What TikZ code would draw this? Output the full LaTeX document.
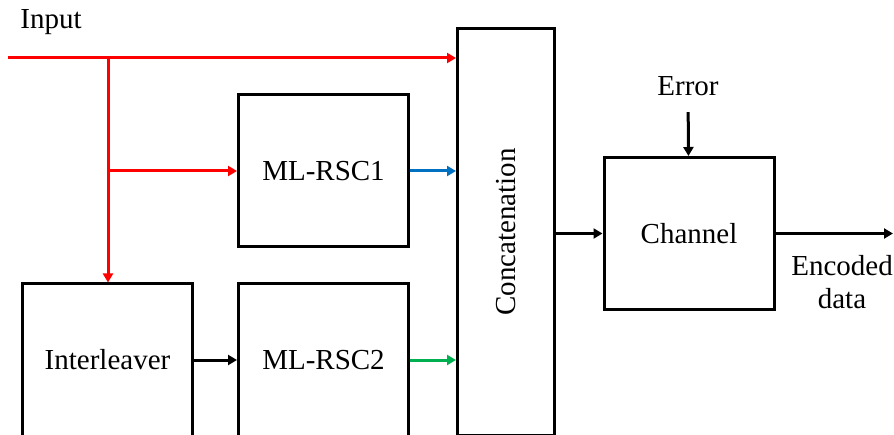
\documentclass[tikz,border=0pt]{standalone}
\usepackage{fontspec}
\setmainfont{Liberation Serif}
\newfontfamily\timesfont{Liberation Serif}
\usepackage{tikz}
\usetikzlibrary{arrows.meta, positioning}
\definecolor{inputred}{HTML}{FF0000}
\definecolor{rscblue}{HTML}{0070C0}
\definecolor{rscgreen}{HTML}{00B050}
\tikzset{
    codebox/.style={
        draw=black,
        line width=1.5pt,
        align=center,
        minimum width=85pt,
        minimum height=76pt,
        font=\timesfont\fontsize{14.5}{17}\selectfont,
        inner sep=3pt
    },
    textlabel/.style={align=center, font=\timesfont\fontsize{14.5}{16.5}\selectfont, inner sep=3pt},
    flow/.style={-{Triangle[length=4.5pt, width=5pt]}, line width=1.5pt, draw=black},
    redflow/.style={flow, draw=inputred},
    blueflow/.style={flow, draw=rscblue},
    greenflow/.style={flow, draw=rscgreen}
}
\begin{document}
\begin{tikzpicture}[x=0.5pt, y=0.5pt, node distance=17pt and 21.5pt]
    \useasboundingbox (0,0) rectangle (894,434);

    \node[codebox] (interleaver) at (107.5,74) {Interleaver};
    \node[codebox, right=of interleaver] (rsc2) {ML-RSC2};
    \node[codebox, above=of rsc2] (rsc1) {ML-RSC1};
    \node[codebox, minimum width=48.5pt, minimum height=203pt] (concat) at (506,202) {};
    \node[textlabel, rotate=90] (concattext) at (concat.center) {Concatenation};
    \node[codebox] (channel) at (689,200.5) {Channel};

    \node[textlabel, anchor=west] (input) at (14,412) {Input};
    \node[textlabel] (error) at (688,348) {Error};
    \node[textlabel] (encoded) at (842,152) {Encoded\\data};

    \coordinate (start) at (8,376);
    \coordinate (split) at (108,376);
    \coordinate (out) at (893,200.5);

    \draw[redflow] (start) -- (concat.west |- start);
    \draw[redflow] (split) -- (split |- interleaver.north);
    \draw[redflow] (split |- rsc1.west) -- (rsc1.west);

    \draw[blueflow] (rsc1.east) -- (concat.west |- rsc1.east);
    \draw[greenflow] (rsc2.east) -- (concat.west |- rsc2.east);
    \draw[flow] (interleaver) -- (rsc2);

    \draw[flow] (concat.east |- channel.west) -- (channel.west);
    \draw[flow, shorten <=5pt] (error) -- (channel);
    \draw[flow] (channel) -- (out);
\end{tikzpicture}
\end{document}
